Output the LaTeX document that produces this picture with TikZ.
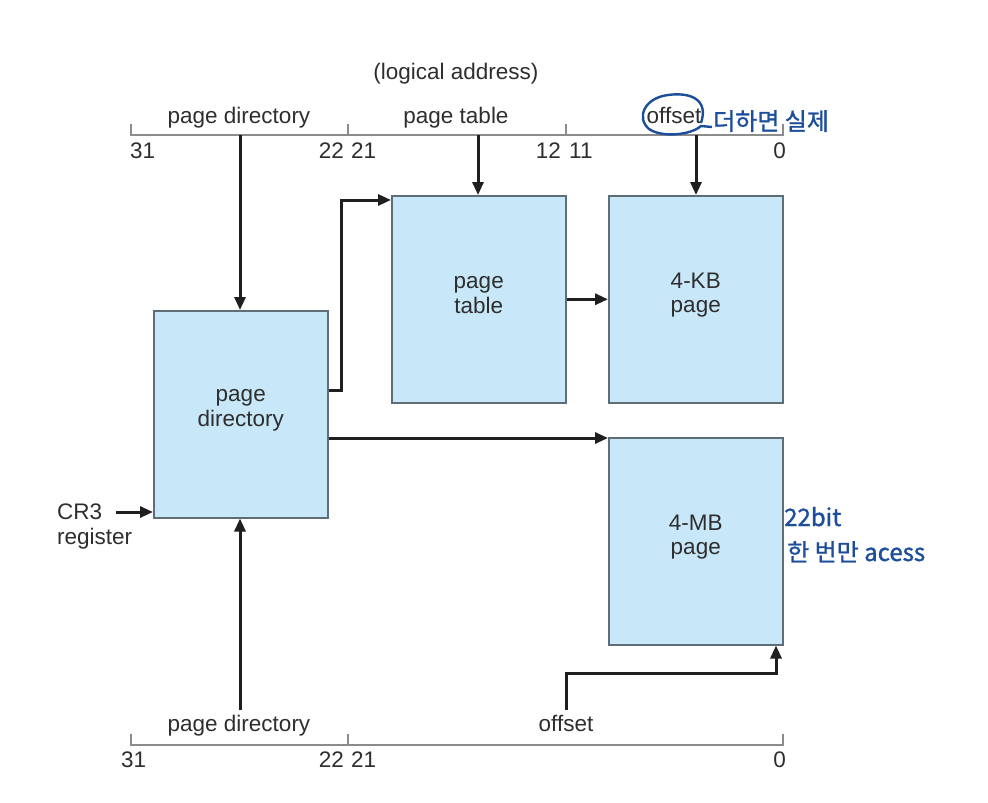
\documentclass[tikz,border=0pt]{standalone}
\usepackage{fontspec}
\setmainfont{Liberation Sans}
\newfontfamily\kofont[FakeBold=1.2]{Noto Sans CJK KR}
\usetikzlibrary{arrows.meta}
\definecolor{boxfill}{HTML}{C8E7F8}
\definecolor{boxedge}{HTML}{5E6E76}
\definecolor{txt}{HTML}{2E2E2E}
\definecolor{barc}{HTML}{8C8C8C}
\definecolor{penc}{HTML}{1C4E9C}
\begin{document}
\begin{tikzpicture}[x=1pt,y=-1pt,
  box/.style={draw=boxedge, line width=1.5pt, fill=boxfill, minimum width=174pt,
    minimum height=207pt, inner sep=0pt, anchor=north west},
  boxtext/.style={align=center, font=\fontsize{22.5}{24.5}\selectfont, text=txt, inner sep=0pt},
  lbl/.style={font=\fontsize{22.5}{25}\selectfont, text=txt, inner sep=0pt, anchor=base},
  arr/.style={line width=3pt, draw=black!88, -{Triangle[length=13pt,width=11pt]}},
  barline/.style={line width=1.4pt, draw=barc},
  pen/.style={text=penc, inner sep=0pt, anchor=base west, font=\kofont\fontsize{24}{28}\selectfont},
  penline/.style={draw=penc, line width=2.4pt}]
\useasboundingbox (0,0) rectangle (988,803);
\fill[white] (0,0) rectangle (988,803);

% top logical address
\node[lbl] (la) at (456,79) {(logical address)};
\draw[barline] (131,124) -- (131,135) -- (783,135) -- (783,124);
\draw[barline] (348,124) -- (348,135);
\draw[barline] (566,124) -- (566,135);
\node[lbl] (tpd) at (239,123) {page directory};
\node[lbl] (tpt) at (456,123) {page table};
\node[lbl] (toff) at (674,123) {offset};
\node[lbl, anchor=base west] (n31) at (130,158) {31};
\node[lbl, anchor=base east] (n22) at (344,158) {22};
\node[lbl, anchor=base west] (n21) at (351,158) {21};
\node[lbl, anchor=base east] (n12) at (561,158) {12};
\node[lbl, anchor=base west] (n11) at (569,158) {11};
\node[lbl, anchor=base east] (n0) at (786,158) {0};

% boxes
\node[box] (pd) at (153,310) {};
\node[box] (pt) at (391,195) {};
\node[box] (kb) at (608,195) {};
\node[box] (mb) at (608,437) {};
\node[boxtext] (pdt) at ([yshift=4pt]pd.center) {page\\directory};
\node[boxtext] (ptt) at ([yshift=4pt]pt.center) {page\\table};
\node[boxtext] (kbt) at ([yshift=4pt]kb.center) {4-KB\\page};
\node[boxtext] (mbt) at ([yshift=4pt]mb.center) {4-MB\\page};

% CR3
\node[lbl, anchor=base west] (cr3) at (57,519) {CR3};
\node[lbl, anchor=base west] (reg) at (57,544) {register};
\coordinate (cr3t) at (116,512);

% bottom address
\draw[barline] (131,734) -- (131,745) -- (783,745) -- (783,734);
\draw[barline] (348,734) -- (348,745);
\node[lbl] (bpd) at (239,731) {page directory};
\node[lbl] (boff) at (566,731) {offset};
\node[lbl, anchor=base west] (m31) at (121,767) {31};
\node[lbl, anchor=base east] (m22) at (344,767) {22};
\node[lbl, anchor=base west] (m21) at (351,767) {21};
\node[lbl, anchor=base east] (m0) at (786,767) {0};

% coordinates
\coordinate (fpd) at (240,135);
\coordinate (fpt) at (478,135);
\coordinate (foff) at (696,135);
\coordinate (j1) at (341,390);
\coordinate (j2) at (341,200);
\coordinate (j3) at (0,438);
\coordinate (gpd) at (240,710);
\coordinate (goff) at (566,710);
\coordinate (k1) at (566,673);
\coordinate (k2) at (776,673);

% arrows
\draw[arr] (fpd) -- (fpd |- pd.north);
\draw[arr] (fpt) -- (fpt |- pt.north);
\draw[arr] (foff) -- (foff |- kb.north);
\draw[arr] (pd.east |- j1) -- (j1) -- (j2) -- (pt.west |- j2);
\draw[arr] (pt.east) -- (kb.west);
\draw[arr] (pd.east |- j3) -- (mb.west |- j3);
\draw[arr] (cr3t) -- (pd.west |- cr3t);
\draw[arr] (gpd) -- (gpd |- pd.south);
\draw[arr] (goff) -- (k1) -- (k2) -- (k2 |- mb.south);

% handwritten notes
\draw[penline] (701,123) .. controls (709,99) and (690,92) .. (668,95)
  .. controls (644,98) and (636,118) .. (649,129)
  .. controls (662,138) and (691,135) .. (701,126) -- (712,127);
\node[pen] (n1) at (713,130) {더하면 실제};
\node[pen] (n2) at (784,526) {22bit};
\node[pen] (n3) at (787,561) {한 번만 acess};
\end{tikzpicture}
\end{document}
